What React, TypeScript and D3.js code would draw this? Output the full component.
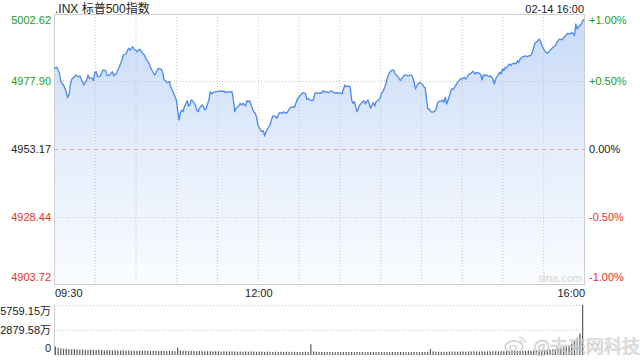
import React from "react";
import * as d3 from "d3";

// minutes after 09:30
const minutes = [
  0, 2, 4, 5, 7, 9, 10, 11, 12, 13,
  15, 16, 18, 19, 21, 22, 24, 25, 26, 28,
  29, 30, 31, 32, 34, 35, 36, 38, 39, 41,
  43, 44, 46, 47, 48, 50, 51, 53, 54, 55,
  56, 58, 59, 60, 61, 63, 64, 65, 66, 67,
  69, 70, 71, 72, 74, 75, 76, 77, 79, 80,
  81, 82, 83, 85, 86, 87, 88, 90, 91, 92,
  93, 94, 95, 96, 98, 99, 100, 101, 102, 104,
  105, 106, 107, 109, 110, 111, 112, 114, 115, 116,
  117, 119, 121, 123, 124, 125, 126, 128, 130, 131,
  132, 133, 134, 136, 137, 138, 139, 141, 142, 143,
  144, 145, 147, 148, 149, 150, 152, 153, 154, 155,
  156, 157, 159, 160, 161, 163, 164, 165, 166, 168,
  169, 170, 171, 172, 174, 175, 176, 177, 179, 180,
  181, 182, 183, 185, 186, 187, 188, 190, 191, 192,
  193, 194, 196, 197, 198, 199, 201, 202, 203, 204,
  206, 207, 208, 209, 210, 212, 213, 214, 215, 217,
  218, 219, 220, 221, 223, 224, 225, 226, 228, 229,
  230, 231, 233, 234, 235, 236, 237, 239, 240, 241,
  242, 244, 245, 246, 247, 248, 250, 251, 252, 253,
  255, 256, 257, 258, 260, 261, 263, 264, 265, 266,
  267, 268, 269, 271, 272, 273, 274, 275, 276, 277,
  278, 280, 281, 282, 283, 285, 286, 287, 288, 289,
  291, 292, 293, 294, 296, 297, 298, 299, 300, 302,
  303, 304, 305, 307, 308, 309, 310, 311, 313, 314,
  315, 316, 317, 318, 320, 321, 322, 323, 324, 325,
  326, 328, 329, 330, 331, 332, 333, 335, 336, 337,
  338, 340, 341, 342, 343, 345, 346, 347, 348, 350,
  351, 352, 353, 354, 356, 357, 358, 359, 360, 361,
  363, 364, 365, 366, 367, 369, 370, 371, 372, 374,
  375, 376, 377, 378, 380, 381, 382, 383, 384, 385,
  386, 388, 389, 390,
];

const prices = [
  4982.73, 4983.10, 4981.01, 4977.82, 4976.61, 4974.16, 4971.96, 4972.95, 4976.61, 4978.70,
  4979.65, 4980.28, 4979.65, 4979.91, 4977.82, 4976.61, 4978.45, 4980.28, 4979.07, 4979.20,
  4978.19, 4981.12, 4981.49, 4979.65, 4979.80, 4980.90, 4982.11, 4981.85, 4980.02, 4980.28,
  4981.49, 4980.02, 4980.90, 4982.11, 4983.10, 4985.77, 4987.60, 4987.97, 4989.18, 4990.06,
  4989.44, 4990.64, 4989.69, 4989.44, 4988.81, 4989.69, 4989.18, 4988.23, 4987.97, 4986.98,
  4985.15, 4984.56, 4983.10, 4982.11, 4980.28, 4980.90, 4982.11, 4982.73, 4982.37, 4981.12,
  4978.45, 4978.19, 4977.46, 4977.82, 4975.77, 4974.78, 4973.57, 4971.12, 4967.46, 4963.79,
  4966.47, 4967.46, 4966.83, 4968.67, 4970.86, 4968.92, 4969.29, 4971.12, 4970.86, 4969.29,
  4967.46, 4966.83, 4968.08, 4969.29, 4968.67, 4967.46, 4968.08, 4971.12, 4974.16, 4973.32,
  4973.79, 4974.16, 4974.30, 4974.42, 4974.16, 4974.42, 4973.79, 4974.16, 4974.00, 4974.16,
  4971.12, 4966.83, 4968.08, 4968.92, 4969.91, 4969.29, 4969.91, 4968.92, 4970.86, 4970.50,
  4970.86, 4969.29, 4966.83, 4966.25, 4965.00, 4961.96, 4960.13, 4959.51, 4959.88, 4957.93,
  4959.51, 4960.39, 4961.96, 4963.79, 4965.26, 4965.00, 4964.42, 4965.63, 4966.47, 4966.25,
  4966.83, 4966.47, 4966.25, 4966.83, 4968.45, 4968.45, 4968.67, 4968.45, 4971.38, 4971.96,
  4972.59, 4973.21, 4973.79, 4973.57, 4971.38, 4971.74, 4971.12, 4970.86, 4971.38, 4973.57,
  4973.79, 4973.57, 4973.79, 4973.57, 4974.53, 4974.16, 4974.05, 4973.79, 4974.16, 4974.53,
  4973.79, 4973.57, 4973.79, 4973.57, 4973.79, 4973.32, 4975.04, 4976.61, 4975.99, 4976.25,
  4975.77, 4971.12, 4969.91, 4970.50, 4966.83, 4968.08, 4969.29, 4969.91, 4970.86, 4969.65,
  4970.50, 4971.12, 4968.08, 4969.29, 4970.13, 4968.92, 4970.50, 4971.12, 4971.74, 4973.79,
  4974.16, 4976.61, 4978.70, 4980.28, 4981.12, 4981.85, 4982.11, 4980.64, 4980.28, 4979.65,
  4978.19, 4979.07, 4979.65, 4980.28, 4980.02, 4980.02, 4980.28, 4979.44, 4977.60, 4975.15,
  4976.36, 4976.98, 4977.60, 4976.98, 4975.99, 4975.77, 4972.11, 4967.82, 4967.90, 4966.98,
  4966.61, 4966.98, 4967.46, 4969.65, 4970.64, 4970.64, 4971.12, 4970.28, 4972.11, 4969.65,
  4972.69, 4974.53, 4975.15, 4975.15, 4976.72, 4977.60, 4978.19, 4978.81, 4978.81, 4979.44,
  4978.81, 4979.44, 4980.39, 4980.90, 4981.63, 4981.27, 4980.64, 4981.27, 4980.90, 4980.39,
  4978.45, 4980.39, 4980.02, 4980.39, 4979.65, 4980.02, 4979.44, 4978.81, 4976.98, 4978.81,
  4979.65, 4981.27, 4980.64, 4982.48, 4981.85, 4983.10, 4982.84, 4984.31, 4983.68, 4984.31,
  4984.56, 4984.40, 4985.52, 4984.93, 4986.14, 4986.98, 4987.05, 4987.35, 4986.98, 4987.35,
  4987.50, 4988.59, 4990.42, 4991.89, 4992.84, 4993.46, 4992.62, 4991.01, 4990.17, 4989.18,
  4988.23, 4988.59, 4989.18, 4989.80, 4990.42, 4991.01, 4992.26, 4992.84, 4993.46, 4993.10,
  4994.09, 4994.31, 4995.04, 4995.55, 4995.30, 4995.92, 4995.55, 4994.67, 4998.96, 4997.13,
  4997.97, 4998.96, 5000.17, 5000.62,
];

// volume per 2-minute bar, in 万
const volumes = [
  980, 820, 760, 700, 720, 690, 650, 680, 640, 610, 630, 600, 580, 620, 590,
  560, 600, 570, 540, 580, 550, 520, 560, 530, 510, 540, 500, 520, 490, 510,
  480, 500, 470, 510, 480, 460, 490, 470, 450, 480, 460, 440, 470, 450, 430,
  820, 520, 480, 460, 440, 470, 450, 430, 460, 440, 420, 450, 430, 410, 440,
  420, 400, 430, 410, 390, 420, 400, 380, 410, 390, 400, 380, 410, 390, 370,
  400, 380, 360, 390, 370, 350, 380, 360, 370, 350, 380, 360, 340, 370, 350,
  360, 340, 370, 350, 1230, 420, 380, 360, 350, 370, 340, 360, 350, 330, 360,
  340, 350, 330, 360, 340, 320, 350, 330, 340, 320, 350, 330, 340, 320, 330,
  350, 330, 340, 320, 360, 340, 330, 350, 340, 320, 340, 330, 350, 340, 330,
  360, 350, 370, 700, 420, 380, 370, 360, 380, 370, 390, 380, 400, 380, 390,
  400, 390, 410, 400, 420, 410, 400, 420, 410, 430, 420, 440, 430, 420, 440,
  450, 440, 460, 450, 470, 460, 480, 470, 490, 500, 480, 510, 520, 540, 560,
  580, 600, 620, 650, 700, 740, 800, 880, 950, 1100, 1300, 1600, 1900, 2500, 5759.15,
];

const prevClose = 4953.17;
const priceTicks = [5002.62, 4977.9, 4953.17, 4928.44, 4903.72];
const priceTickLabels = ["5002.62", "4977.90", "4953.17", "4928.44", "4903.72"];
const pctTickLabels = ["+1.00%", "+0.50%", "0.00%", "-0.50%", "-1.00%"];
const timeLabels = ["09:30", "12:00", "16:00"];
const timeLabelMinutes = [0, 150, 390];
const gridMinutes = [30, 60, 90, 120, 150, 180, 210, 240, 270, 300, 330, 360];
const volTicks = [5759.15, 2879.58, 0];
const volTickLabels = ["5759.15万", "2879.58万", "0"];
const title = ".INX 标普500指数";
const stamp = "02-14 16:00";

const FONT = "'Liberation Sans', Arial, 'Noto Sans CJK SC', sans-serif";
const GREEN = "#1c9b1c";
const RED = "#e8302c";
const DARK = "#222";

export default function App() {
  const L = 54, R = 584, T = 14, B = 284;
  const VT = 305, VB = 355;
  const x = d3.scaleLinear().domain([0, 390]).range([L, R]);
  const y = d3.scaleLinear().domain([4903.72, 5002.62]).range([B, T]);
  const vy = d3.scaleLinear().domain([0, 5759.15]).range([VB, VT]);
  const data = minutes.map((m, i) => ({ m, p: prices[i] }));
  const line = d3.line<any>().x((d) => x(d.m)).y((d) => y(d.p));
  const area = d3.area<any>().x((d) => x(d.m)).y0(B).y1((d) => y(d.p));
  const colorFor = (v: number) => (v > prevClose + 0.001 ? GREEN : v < prevClose - 0.001 ? RED : DARK);

  return (
    <svg width={640} height={360} style={{ position: "fixed", left: 0, top: 0, background: "#fff" }} fontFamily={FONT}>
      <defs>
        <linearGradient id="fillGrad" gradientUnits="userSpaceOnUse" x1="0" y1={T} x2="0" y2={B}>
          <stop offset="0" stopColor="#c7daf7" />
          <stop offset="0.5" stopColor="#e4edfb" />
          <stop offset="1" stopColor="#fafcff" />
        </linearGradient>
      </defs>

      <text x={55} y={13} fontSize={12} fill={DARK}>{title}</text>
      <text x={584} y={13} fontSize={11} fill={DARK} textAnchor="end">{stamp}</text>

      {/* area */}
      <path d={area(data) || ""} fill="url(#fillGrad)" />

      {/* grid */}
      {gridMinutes.map((m) => (
        <line key={"vg" + m} x1={x(m) + 0.5} x2={x(m) + 0.5} y1={T} y2={B} stroke="#c4c4c4" strokeDasharray="1,2" />
      ))}
      {[priceTicks[1], priceTicks[3]].map((v) => (
        <line key={"hg" + v} x1={L} x2={R} y1={Math.round(y(v)) + 0.5} y2={Math.round(y(v)) + 0.5} stroke="#c4c4c4" strokeDasharray="1,2" />
      ))}
      <line x1={L} x2={R} y1={Math.round(y(prevClose)) + 0.5} y2={Math.round(y(prevClose)) + 0.5} stroke="#e8a589" strokeDasharray="4,4" />

      {/* border */}
      <rect x={L + 0.5} y={T + 0.5} width={R - L} height={B - T} fill="none" stroke="#cfcfcf" />

      {/* watermark */}
      <text x={582} y={282} fontSize={11} fill="#d4d4d4" textAnchor="end">sina.com</text>

      {/* price line */}
      <path d={line(data) || ""} fill="none" stroke="#4a89ee" strokeWidth={1.3} strokeLinejoin="round" />

      {/* left labels */}
      {priceTicks.map((v, i) => (
        <text key={"pl" + i} x={51} y={Math.min(Math.max(y(v), 20), 277) + 4} fontSize={11} fill={colorFor(v)} textAnchor="end">
          {priceTickLabels[i]}
        </text>
      ))}
      {/* right labels */}
      {priceTicks.map((v, i) => (
        <text key={"pr" + i} x={589} y={Math.min(Math.max(y(v), 20), 277) + 4} fontSize={11} fill={colorFor(v)}>
          {pctTickLabels[i]}
        </text>
      ))}

      {/* time labels */}
      {timeLabels.map((t, i) => (
        <text key={"t" + i} x={i === 2 ? x(timeLabelMinutes[i]) + 1 : i === 0 ? x(timeLabelMinutes[i]) + 1 : x(timeLabelMinutes[i]) + 1}
          y={297} fontSize={11} fill={DARK} textAnchor={i === 0 ? "start" : i === 1 ? "middle" : "end"}>
          {t}
        </text>
      ))}

      {/* volume panel */}
      {[volTicks[0], volTicks[1]].map((v) => (
        <line key={"vgl" + v} x1={L} x2={R} y1={Math.round(vy(v)) + 0.5} y2={Math.round(vy(v)) + 0.5} stroke="#c4c4c4" strokeDasharray="1,2" />
      ))}
      <line x1={L + 0.5} x2={L + 0.5} y1={VT} y2={VB} stroke="#cfcfcf" />
      {volumes.map((v, i) => {
        const cx = x(2 * i + 1);
        return <rect key={"vb" + i} x={cx - 0.6} y={vy(v)} width={1.2} height={VB - vy(v)} fill="#5a5a5a" />;
      })}
      {volTicks.map((v, i) => (
        <text key={"vl" + i} x={51} y={Math.min(Math.max(vy(v), 311), 348) + 4} fontSize={11} fill={DARK} textAnchor="end">
          {volTickLabels[i]}
        </text>
      ))}

      {/* weibo watermark */}
      <g opacity={0.75}>
        <ellipse cx={514} cy={347} rx={9} ry={6} fill="none" stroke="#bdbdbd" strokeWidth={1.5} />
        <ellipse cx={513} cy={348} rx={3.5} ry={2.5} fill="none" stroke="#bdbdbd" strokeWidth={1.2} />
        <path d="M519,337 a6,6 0 0 1 6,6 M519,340 a3,3 0 0 1 3,3" fill="none" stroke="#bdbdbd" strokeWidth={1.2} />
        <text x={533} y={353} fontSize={18} fill="#e6e6e6" stroke="#b8b8b8" strokeWidth={0.6} fontFamily="'Noto Sans CJK SC', sans-serif">@未来网科技</text>
      </g>
    </svg>
  );
}
